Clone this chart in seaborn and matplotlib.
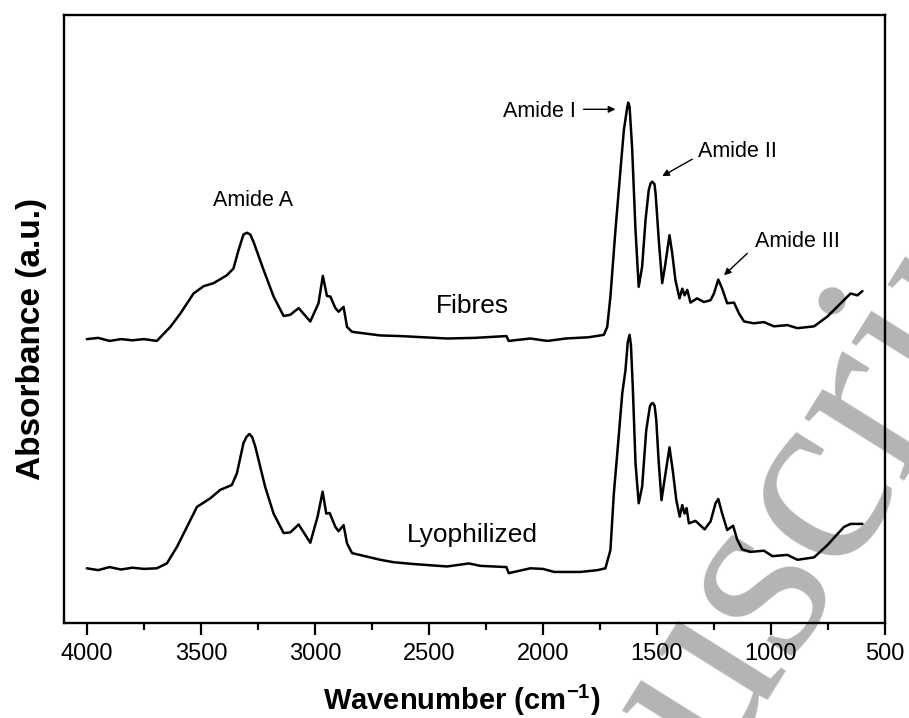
import matplotlib
matplotlib.use('Agg')
import matplotlib.pyplot as plt
import numpy as np
import seaborn as sns

# wavenumber (cm-1) and absorbance (a.u.)
fibres_wn = [4000, 3950, 3900, 3850, 3800, 3750, 3693, 3634, 3590, 3532, 3488, 3444,
             3386, 3357, 3335, 3313, 3298, 3283, 3269, 3225, 3181, 3137, 3108, 3071, 3020, 2984,
             2965, 2947, 2932, 2910, 2896, 2874, 2859, 2837, 2713, 2625, 2420, 2300,
             2160, 2150, 2055, 2000, 1980, 1900, 1800, 1733, 1718, 1704, 1682, 1660,
             1645, 1630, 1626, 1620, 1609, 1594, 1580, 1565, 1550, 1536, 1528, 1521, 1511, 1506, 1492, 1477,
             1465, 1445, 1433, 1419, 1401, 1389, 1379, 1367, 1353, 1324, 1294, 1265,
             1250, 1231, 1214, 1192, 1162, 1140, 1118, 1075, 1031, 987, 928, 884,
             811, 753, 694, 651, 621, 599]
fibres_abs = [0.467, 0.469, 0.464, 0.467, 0.465, 0.467, 0.464, 0.487, 0.509, 0.542, 0.554, 0.559,
              0.572, 0.583, 0.613, 0.639, 0.642, 0.639, 0.627, 0.581, 0.537, 0.505, 0.507, 0.518, 0.496, 0.526,
              0.571, 0.538, 0.537, 0.518, 0.512, 0.520, 0.487, 0.479, 0.473, 0.472, 0.468, 0.469,
              0.472, 0.464, 0.468, 0.465, 0.464, 0.468, 0.470, 0.474, 0.487, 0.537, 0.646, 0.745,
              0.811, 0.849, 0.856, 0.849, 0.783, 0.646, 0.553, 0.586, 0.663, 0.712, 0.723, 0.726, 0.722, 0.707, 0.630, 0.559,
              0.586, 0.638, 0.608, 0.564, 0.534, 0.550, 0.539, 0.548, 0.527, 0.534, 0.528, 0.531,
              0.542, 0.565, 0.550, 0.526, 0.527, 0.509, 0.496, 0.493, 0.495, 0.488, 0.490, 0.485,
              0.488, 0.504, 0.526, 0.542, 0.539, 0.546]

lyo_wn = [4000, 3950, 3900, 3850, 3800, 3750, 3693, 3649, 3605, 3561, 3517, 3459,
          3415, 3364, 3342, 3313, 3300, 3287, 3275, 3261, 3218, 3181, 3137, 3108, 3071, 3020,
          2988, 2966, 2950, 2935, 2910, 2896, 2874, 2859, 2837, 2713, 2655, 2567,
          2420, 2325, 2274, 2160, 2150, 2055, 2000, 1950, 1835, 1760, 1726, 1704,
          1689, 1674, 1652, 1638, 1628, 1620, 1614, 1606, 1594, 1580, 1565, 1547, 1531, 1526, 1518,
          1510, 1503, 1492, 1480, 1467, 1445, 1431, 1415, 1400, 1389, 1379, 1370, 1360,
          1331, 1291, 1265, 1243, 1231, 1214, 1192, 1166, 1148, 1126, 1089, 1031,
          994, 928, 884, 811, 753, 680, 651, 599]
lyo_abs = [0.090, 0.087, 0.092, 0.088, 0.091, 0.089, 0.090, 0.098, 0.125, 0.158, 0.191, 0.205,
           0.219, 0.227, 0.246, 0.296, 0.306, 0.311, 0.306, 0.290, 0.224, 0.180, 0.148, 0.149, 0.162, 0.132,
           0.175, 0.216, 0.180, 0.181, 0.158, 0.151, 0.161, 0.131, 0.115, 0.104, 0.100, 0.097,
           0.093, 0.098, 0.094, 0.092, 0.082, 0.090, 0.089, 0.084, 0.084, 0.087, 0.090, 0.120,
           0.213, 0.279, 0.378, 0.416, 0.462, 0.474, 0.457, 0.389, 0.263, 0.197, 0.224, 0.317, 0.356, 0.360, 0.362,
           0.357, 0.334, 0.263, 0.202, 0.235, 0.289, 0.252, 0.202, 0.175, 0.194, 0.180, 0.189, 0.164,
           0.168, 0.154, 0.167, 0.197, 0.204, 0.180, 0.153, 0.160, 0.137, 0.121, 0.117, 0.119,
           0.110, 0.112, 0.104, 0.108, 0.128, 0.158, 0.163, 0.163]

sns.set_style('ticks')
plt.rcParams['font.family'] = ['Liberation Sans', 'DejaVu Sans']
plt.rcParams['mathtext.fontset'] = 'custom'
plt.rcParams['mathtext.rm'] = 'Liberation Sans'
plt.rcParams['mathtext.bf'] = 'Liberation Sans:bold'
for k in ['text.color', 'axes.labelcolor', 'xtick.color', 'axes.edgecolor']:
    plt.rcParams[k] = 'black'

fig = plt.figure(figsize=(9.09, 7.18), dpi=100)
# watermark, behind the axes
fig.text(0.515, -0.627, 'Manuscript', fontsize=185, family='Liberation Serif',
         color='#b4b4b4', rotation=58, rotation_mode='anchor',
         ha='left', va='baseline', zorder=-5)
ax = fig.add_axes([0.0704, 0.1323, 0.9032, 0.8467])
ax.patch.set_alpha(0)

sns.lineplot(x=fibres_wn, y=fibres_abs, sort=False, estimator=None, color='black', lw=1.8, ax=ax)
sns.lineplot(x=lyo_wn, y=lyo_abs, sort=False, estimator=None, color='black', lw=1.8, ax=ax)

ax.set_xlim(4100, 500)
ax.set_ylim(0, 1)
ax.set_xticks(np.arange(4000, 499, -500))
ax.set_xticks(np.arange(3750, 500, -500), minor=True)
ax.set_yticks([])
ax.tick_params(axis='x', which='major', direction='out', length=8.5, width=1.6,
               labelsize=17, pad=6)
ax.tick_params(axis='x', which='minor', direction='out', length=5, width=1.6)
for s in ax.spines.values():
    s.set_linewidth(1.7)
    s.set_visible(True)

ax.set_xlabel('Wavenumber (cm$^{\\mathbf{-1}}$)', fontsize=21, fontweight='bold')
ax.xaxis.set_label_coords(0.484, -0.098)
ax.set_ylabel('Absorbance (a.u.)', fontsize=24, fontweight='bold')
ax.yaxis.set_label_coords(-0.021, 0.467)

ax.text(3272, 0.695, 'Amide A', fontsize=15.5, ha='center', va='center')
ax.text(2311, 0.521, 'Fibres', fontsize=19, ha='center', va='center')
ax.text(2311, 0.145, 'Lyophilized', fontsize=19, ha='center', va='center')

arr = dict(arrowstyle='-|>', color='black', lw=1, mutation_scale=10, shrinkA=0, shrinkB=0)
ax.text(2017, 0.841, 'Amide I', fontsize=15.5, ha='center', va='center')
ax.annotate('', xy=(1682, 0.845), xytext=(1822, 0.845), arrowprops=arr)
ax.text(1146, 0.776, 'Amide II', fontsize=15.5, ha='center', va='center')
ax.annotate('', xy=(1477, 0.735), xytext=(1345, 0.763), arrowprops=arr)
ax.text(885, 0.627, 'Amide III', fontsize=15.5, ha='center', va='center')
ax.annotate('', xy=(1206, 0.572), xytext=(1104, 0.608), arrowprops=arr)

fig.savefig('out.png', dpi=100)
